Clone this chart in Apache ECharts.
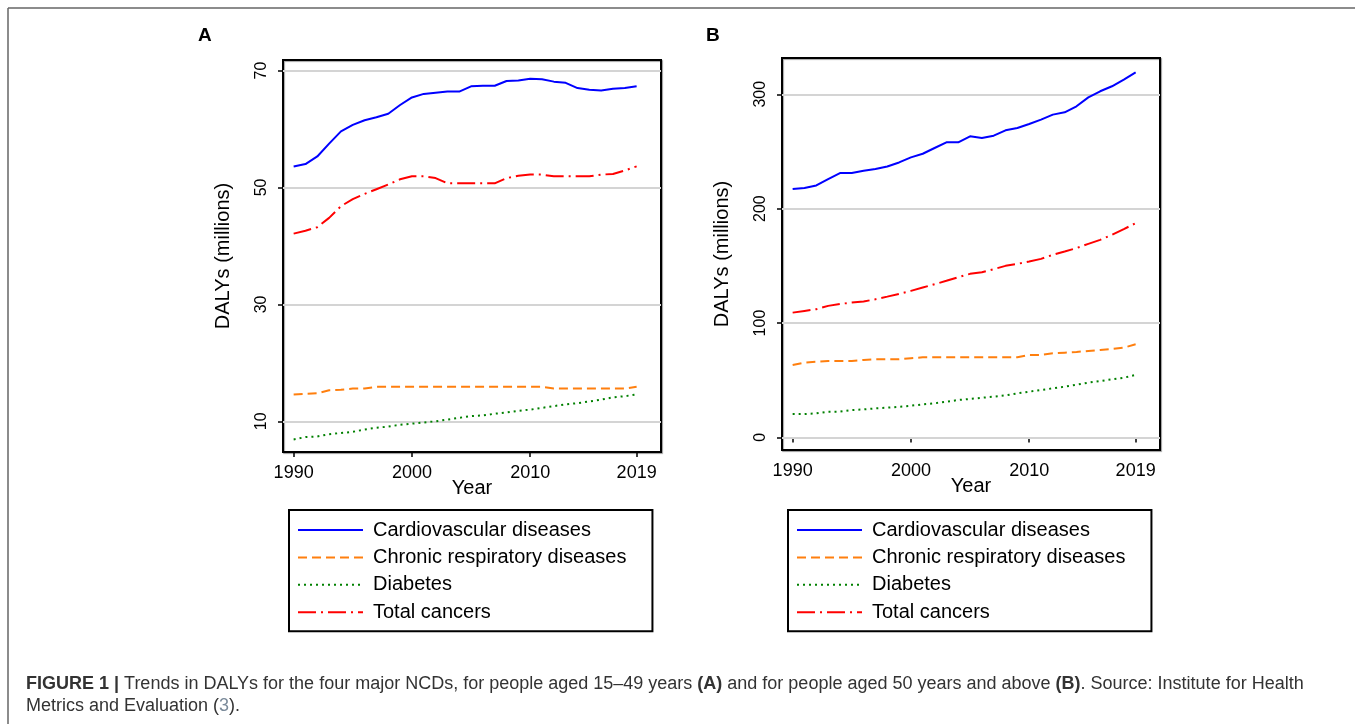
<!DOCTYPE html>
<html>
<head>
<meta charset="utf-8">
<script src="https://cdn.jsdelivr.net/npm/echarts@6/dist/echarts.min.js"></script>
<style>
html,body{margin:0;padding:0;background:#fff;}
#chart{width:1355px;height:724px;}
</style>
</head>
<body>
<div id="chart"></div>
<script>
const years = [1990,1991,1992,1993,1994,1995,1996,1997,1998,1999,2000,2001,2002,2003,2004,2005,2006,2007,2008,2009,2010,2011,2012,2013,2014,2015,2016,2017,2018,2019];
const seriesNames = ['Cardiovascular diseases','Chronic respiratory diseases','Diabetes','Total cancers'];
const xTicks = [1990,2000,2010,2019];
const yTicksA = [10,30,50,70];
const yTicksB = [0,100,200,300];

// Panel A: people aged 15-49 (DALYs, millions)
const cvdA = [53.6,54.0,55.3,57.5,59.6,60.7,61.5,62.0,62.6,64.1,65.4,66.0,66.2,66.4,66.4,67.3,67.4,67.4,68.2,68.3,68.6,68.5,68.1,67.9,67.0,66.7,66.6,66.9,67.0,67.3];
const crdA = [14.6,14.7,14.8,15.3,15.4,15.6,15.6,15.9,15.9,15.9,15.9,15.9,15.9,15.9,15.9,15.9,15.9,15.9,15.9,15.9,15.9,15.9,15.6,15.6,15.6,15.6,15.6,15.6,15.6,15.9];
const diabA = [6.9,7.3,7.4,7.8,8.0,8.2,8.6,8.9,9.1,9.4,9.6,9.8,10.0,10.3,10.6,10.9,11.0,11.3,11.5,11.8,12.0,12.3,12.6,12.9,13.1,13.4,13.7,14.1,14.3,14.6];
const cancerA = [42.1,42.6,43.2,44.8,46.8,48.0,48.9,49.7,50.5,51.4,51.9,51.9,51.6,50.7,50.7,50.7,50.7,50.7,51.6,52.0,52.2,52.2,51.9,51.9,51.9,51.9,52.2,52.3,52.9,53.6];

// Panel B: people aged 50+ (DALYs, millions)
const cvdB = [217.1,218.0,220.3,225.9,231.1,231.1,233.1,234.6,236.9,240.4,244.8,248.0,253.0,258.0,258.0,263.2,261.7,263.8,268.5,270.5,274.0,277.8,282.2,284.2,289.5,297.3,302.6,307.0,312.8,319.2];
const crdB = [63.3,65.4,66.2,66.8,66.8,66.8,67.7,68.3,68.3,68.3,69.2,70.0,70.0,70.0,70.0,70.0,70.0,70.0,70.0,70.0,72.1,72.1,73.5,74.1,74.7,75.6,76.5,77.3,78.5,81.4];
const diabB = [20.4,20.4,21.0,22.5,22.5,23.9,24.5,25.4,26.0,26.8,27.7,28.9,29.8,31.2,32.7,33.6,34.7,35.6,36.8,38.5,40.0,41.4,42.9,44.4,46.1,47.9,49.3,50.8,52.2,54.6];
const cancerB = [109.1,110.6,112.1,115.0,116.7,117.9,118.8,120.8,123.1,125.5,128.1,131.0,133.9,136.9,140.1,143.0,144.4,147.1,150.0,151.7,153.8,156.1,159.6,162.5,165.5,169.2,172.7,177.1,182.1,187.3];

const FONT = 'Liberation Sans, Arial, sans-serif';
const colors = ['#0000ff','#ff7f0e','#008000','#ff0000'];
const dashes = ['solid',[9,5],[2,4],[18,5,2,5]];

function pairs(vals){ return years.map((y,i)=>[y, vals[i]]); }

function xAxis(gi){
  return {
    type:'value', gridIndex:gi, min:1989.1, max:2021.06,
    name:'Year', nameLocation:'middle', nameGap:26, nameMoveOverlap:false,
    nameTextStyle:{fontFamily:FONT,fontSize:20,color:'#000'},
    axisLine:{show:false},
    axisTick:{show:true,inside:false,length:5,customValues:xTicks,lineStyle:{color:'#000',width:1.5}},
    axisLabel:{customValues:xTicks,formatter:v=>String(v),fontFamily:FONT,fontSize:18,color:'#000',margin:12},
    splitLine:{show:false}
  };
}
function yAxis(gi,min,max,ticks,gap){
  return {
    type:'value', gridIndex:gi, min:min, max:max,
    name:'DALYs (millions)', nameLocation:'middle', nameGap:gap, nameRotate:90, nameMoveOverlap:false,
    nameTextStyle:{fontFamily:FONT,fontSize:20,color:'#000'},
    axisLine:{show:false},
    axisTick:{show:true,inside:false,length:5,customValues:ticks,lineStyle:{color:'#000',width:1.5}},
    axisLabel:{customValues:ticks,formatter:v=>String(v),rotate:90,fontFamily:FONT,fontSize:16,color:'#000',margin:13},
    splitLine:{show:false}
  };
}
function panelSeries(gi, data, ticks){
  const out = data.map((vals,k)=>({
    name:seriesNames[k], type:'line', xAxisIndex:gi, yAxisIndex:gi,
    data:pairs(vals), symbol:'none', z:3,
    lineStyle:{color:colors[k],width:2,type:dashes[k]},
    itemStyle:{color:colors[k]}
  }));
  out[0].markLine = {
    silent:true, symbol:['none','none'], z:1, animation:false,
    label:{show:false},
    lineStyle:{color:'#d4d4d4',width:2,type:'solid'},
    data: ticks.map(v=>({yAxis:v}))
  };
  return out;
}
function legend(left){
  return {
    show:true, orient:'vertical', left:left, top:510,
    data:seriesNames, selectedMode:false,
    borderColor:'#000', borderWidth:2,
    padding:[10,26,9,8],
    itemWidth:65, itemHeight:14, itemGap:7.4,
    itemStyle:{opacity:0},
    textStyle:{fontFamily:FONT,fontSize:20,color:'#000',lineHeight:20,padding:[0,0,0,5]}
  };
}

const chart = echarts.init(document.getElementById('chart'), null, {renderer:'canvas'});
chart.setOption({
  animation:false,
  backgroundColor:'#fff',
  grid:[
    {left:283,top:60,width:378,height:392,show:true,borderColor:'#000',borderWidth:2,backgroundColor:'#fff',shadowColor:'rgba(0,0,0,0.35)',shadowOffsetX:1,shadowOffsetY:1,shadowBlur:1},
    {left:782,top:58,width:378,height:392,show:true,borderColor:'#000',borderWidth:2,backgroundColor:'#fff',shadowColor:'rgba(0,0,0,0.35)',shadowOffsetX:1,shadowOffsetY:1,shadowBlur:1}
  ],
  xAxis:[xAxis(0),xAxis(1)],
  yAxis:[yAxis(0,4.75,71.8,yTicksA,50), yAxis(1,-11,331.7,yTicksB,50)],
  legend:[legend(289), legend(788)],
  series:[].concat(
    panelSeries(0,[cvdA,crdA,diabA,cancerA],yTicksA),
    panelSeries(1,[cvdB,crdB,diabB,cancerB],yTicksB)
  ),
  graphic:[
    {type:'line',shape:{x1:8,y1:8,x2:1355,y2:8},style:{stroke:'#666',lineWidth:1.5},silent:true},
    {type:'line',shape:{x1:8,y1:8,x2:8,y2:724},style:{stroke:'#666',lineWidth:1.5},silent:true},
    {type:'text',left:198,top:26,style:{text:'A',font:'bold 19px '+FONT,fill:'#000'}},
    {type:'text',left:706,top:26,style:{text:'B',font:'bold 19px '+FONT,fill:'#000'}},
    {type:'text',left:26,top:675,style:{
      text:'{b|FIGURE 1 |} Trends in DALYs for the four major NCDs, for people aged 15–49 years {b|(A)} and for people aged 50 years and above {b|(B)}. Source: Institute for Health',
      font:'18px '+FONT, fill:'#333',
      rich:{b:{fontWeight:'bold',fontSize:18,fontFamily:FONT,fill:'#333'}}
    }},
    {type:'text',left:26,top:697,style:{
      text:'Metrics and Evaluation ({g|3}).',
      font:'18px '+FONT, fill:'#333',
      rich:{g:{fontSize:18,fontFamily:FONT,fill:'#7a8a9a'}}
    }}
  ]
});
</script>
</body>
</html>
